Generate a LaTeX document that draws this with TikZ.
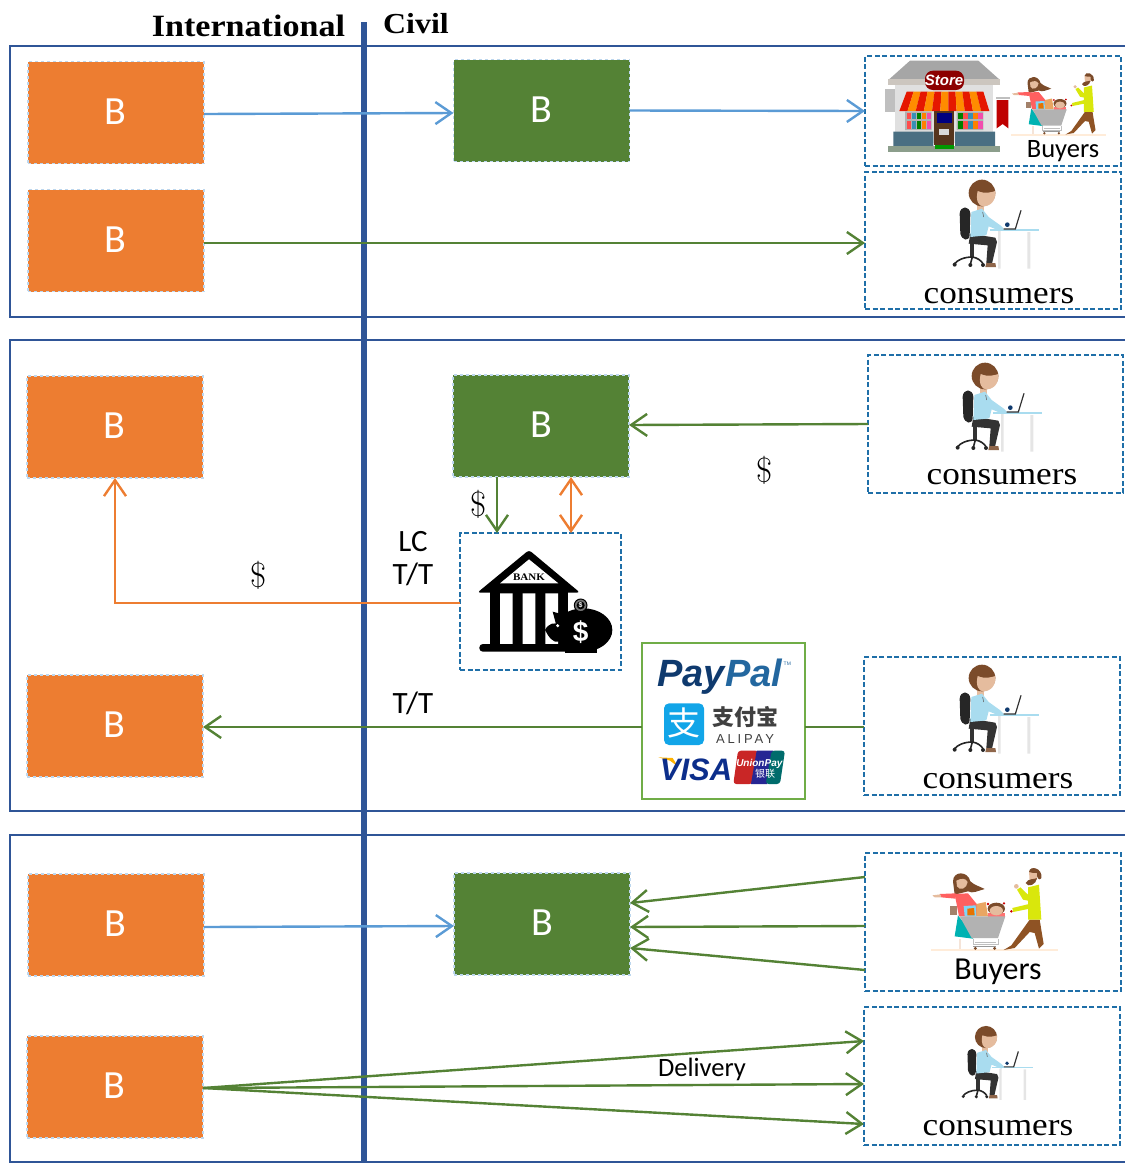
\documentclass[tikz,border=0pt]{standalone}
\usepackage{fontspec}
\usetikzlibrary{arrows.meta,calc}
\newfontfamily\carl{Carlito}
\newfontfamily\serf[FakeStretch=1.1]{Liberation Serif}
\newfontfamily\lsans{Liberation Sans}
\newfontfamily\lsp[LetterSpace=22]{Liberation Sans}
\newfontfamily\cjkf{Noto Sans CJK SC}
\newcommand{\fsz}[1]{\fontsize{#1}{#1}\selectfont}
\newcommand{\bor}{\raisebox{2pt}{\hspace*{-1.5pt}B}}
\newcommand{\bgr}{\raisebox{2pt}{B}}
\definecolor{frameblue}{HTML}{2F5597}
\definecolor{orangeb}{HTML}{ED7D31}
\definecolor{greenb}{HTML}{548235}
\definecolor{bluearrow}{HTML}{5B9BD5}
\definecolor{dashblue}{HTML}{1F6FA8}
\definecolor{lightedge}{HTML}{BDD7EE}
\definecolor{paygreen}{HTML}{70AD47}
\definecolor{hairb}{HTML}{7B4B2A}
\definecolor{skin}{HTML}{E5BC9E}
\definecolor{shirt}{HTML}{A9DCEF}
\definecolor{navyp}{HTML}{0F3A6E}
\definecolor{midp}{HTML}{23679F}
\definecolor{alipayb}{HTML}{12A5E8}
\tikzset{
  frameline/.style={draw=frameblue,line width=2pt},
  obox/.style={fill=orangeb,draw=lightedge,dashed,line width=1.2pt,minimum width=176pt,minimum height=102pt,outer sep=0pt,text=white,font=\carl\fsz{40}},
  gbox/.style={fill=greenb,draw=lightedge,dashed,line width=1.2pt,minimum width=176pt,minimum height=102pt,outer sep=0pt,text=white,font=\carl\fsz{40}},
  dbox/.style={draw=dashblue,dash pattern=on 5pt off 2.5pt,line width=1.6pt,outer sep=0pt,fill=none},
  paybox/.style={draw=paygreen,line width=2.8pt,outer sep=0pt,minimum width=163pt,minimum height=156pt},
  arr/.style={line width=2.4pt,-{Straight Barb[length=16pt,width=22pt,line width=2.4pt]}},
  darr/.style={line width=2.4pt,{Straight Barb[length=16pt,width=22pt,line width=2.4pt]}-{Straight Barb[length=16pt,width=22pt,line width=2.4pt]}},
  lab/.style={inner sep=0pt,font=\carl\fsz{31}},
  cons/.style={inner sep=0pt,font=\serf\fsz{32}},
  money/.style={inner sep=0pt,font=\normalfont\fsz{35}},
  ttl/.style={inner sep=0pt,font=\serf\bfseries\fsz{31}},
}
% reference crop coordinates: 3 units = 1 pixel
\newcommand{\personpic}[3]{%
\begin{scope}[shift={(#1,#2)},scale=#3/3,shift={(-365,-458)}]
 \fill[black!85] (298,520) .. controls (300,495) and (328,495) .. (330,520) -- (328,585) .. controls (325,605) and (305,600) .. (300,580) -- cycle;
 \fill[black!80] (330,605) rectangle (342,650);
 \draw[black!85,line width=1.6pt] (336,650) .. controls (310,650) and (290,660) .. (283,670);
 \draw[black!85,line width=1.6pt] (336,650) .. controls (350,652) and (362,660) .. (368,670);
 \draw[black!85,line width=1.6pt] (336,650) -- (330,672);
 \fill[black!85] (283,673) circle (6) (330,674) circle (6) (368,674) circle (6);
 \fill[black!10] (413,572) rectangle (421,685) (501,575) rectangle (510,685);
 \fill[shirt] (388,566) rectangle (535,571);
 \fill[black!80] (330,580) -- (405,592) -- (410,605) -- (395,670) -- (378,668) -- (382,615) -- (325,610) -- cycle;
 \fill[hairb!85] (378,668) -- (405,668) -- (407,680) -- (375,680) -- cycle;
 \fill[skin] (350,490) rectangle (372,512);
 \fill[shirt] (333,515) -- (365,505) -- (385,530) -- (420,555) -- (430,565) -- (420,572) -- (385,558) -- (378,585) -- (330,590) -- cycle;
 \draw[black!60,line width=.6pt] (367,515) -- (370,530);
 \fill[hairb] (365,458) circle (40);
 \fill[skin] (352,452) .. controls (375,462) and (395,455) .. (405,452) .. controls (408,475) and (395,498) .. (368,498) .. controls (355,498) and (345,480) .. (352,452) -- cycle;
 \draw[black!80,line width=1.2pt] (430,566) -- (465,566) -- (482,510);
 \fill[navyp] (441,553) circle (7);
\end{scope}}
\newcommand{\familypic}[3]{%
\begin{scope}[shift={(#1,#2)},scale=#3/3,shift={(-370,-250)}]
 \fill[orange!15] (215,312) rectangle (595,320);
 % woman
 \fill[hairb] (280,110) .. controls (280,78) and (325,78) .. (332,110) .. controls (345,122) and (360,125) .. (375,133) .. controls (355,138) and (340,148) .. (325,140) -- (285,150) -- cycle;
 \fill[skin] (290,108) .. controls (305,100) and (318,100) .. (324,112) .. controls (322,132) and (300,140) .. (292,125) -- cycle;
 \fill[white!60!skin] (297,283) rectangle (305,312);
 \fill[hairb!70] (272,185) rectangle (292,210);
 \fill[teal!60!cyan] (295,212) -- (340,270) -- (340,282) -- (285,275) -- cycle;
 \fill[red!50!pink] (285,148) -- (325,146) -- (365,195) -- (350,215) -- (298,215) -- cycle;
 \fill[red!50!pink] (240,148) -- (288,146) -- (288,162) -- (245,158) -- cycle;
 \fill[skin] (218,152) -- (242,149) -- (245,158) -- (225,158) -- cycle;
 % goods
 \fill[orange!50!brown!70] (350,178) -- (378,172) -- (385,215) -- (350,215) -- cycle;
 \fill[cyan!50] (312,184) -- (348,182) -- (350,215) -- (315,215) -- cycle;
 \fill[orange!90!black] (323,192) -- (343,190) -- (345,212) -- (323,212) -- cycle;
 % child
 \fill[red!40!pink] (385,205) rectangle (435,216);
 \fill[hairb] (410,192) ellipse (26 and 18);
 \fill[skin] (410,198) ellipse (20 and 14);
 \fill[red!80!black] (385,178) circle (4) (433,176) circle (4);
 % cart
 \fill[black!30] (300,215) -- (437,215) -- (415,280) -- (336,280) -- cycle;
 \draw[black!25,line width=.8pt] (340,282) -- (340,300) -- (415,300) -- (415,282) (347,292) -- (410,292);
 \draw[black!40,line width=1pt] (340,304) -- (410,304);
 \fill[hairb] (347,311) circle (5) (405,311) circle (5);
 % man
 \fill[hairb!85!orange] (510,225) -- (540,225) -- (552,298) -- (538,312) -- (525,265) -- (510,262) -- (465,310) -- (432,316) -- (455,302) -- cycle;
 \fill[yellow!85!green] (505,128) -- (538,120) -- (545,225) -- (505,225) -- cycle;
 \fill[yellow!85!green] (507,152) -- (505,168) -- (490,165) -- (472,135) -- (482,128) -- cycle;
 \fill[yellow!85!green] (508,178) -- (510,192) -- (460,202) -- (458,190) -- cycle;
 \fill[red!80!black] (455,200) circle (4);
 \fill[skin] (508,80) -- (535,82) -- (532,105) -- (510,112) -- cycle;
 \fill[hairb] (508,82) .. controls (510,60) and (550,70) .. (545,100) .. controls (540,110) and (530,100) .. (532,85) .. controls (525,85) and (515,85) .. (508,82) -- cycle;
 \fill[hairb] (498,115) .. controls (505,100) and (525,105) .. (532,100) .. controls (530,120) and (505,130) .. (498,115) -- cycle;
 \fill[skin] (470,125) circle (7);
\end{scope}}
\begin{document}
\begin{tikzpicture}[x=1pt,y=-1pt]
\useasboundingbox (0,0) rectangle (1125,1163);
% frames
\draw[frameline] (1125,46) -- (10,46) -- (10,317) -- (1125,317);
\draw[frameline] (1125,340) -- (10,340) -- (10,811) -- (1125,811);
\draw[frameline] (1125,835) -- (10,835) -- (10,1162) -- (1125,1162);
% divider
\coordinate (divtop) at (364,22);
\coordinate (divbot) at (364,1163);
\draw[frameblue,line width=5.5pt] (divtop) -- (divbot);
\node[ttl] (tint) at (248.5,26) {International};
\node[ttl,font=\serf\bfseries\fsz{29}] (tciv) at (416,24) {Civil};
% orange boxes
\node[obox] (o1) at (116,112.5) {\bor};
\node[obox] (o2) at (116,240.5) {\bor};
\node[obox] (o3) at (115,427) {\bor};
\node[obox] (o4) at (115,726) {\bor};
\node[obox] (o5) at (116,925) {\bor};
\node[obox] (o6) at (115,1087) {\bor};
% green boxes
\node[gbox] (g1) at (541.5,110.5) {\bgr};
\node[gbox] (g2) at (541,426) {\bgr};
\node[gbox] (g3) at (542,924) {\bgr};
% dashed boxes
\node[dbox,minimum width=256pt,minimum height=110pt] (d1) at (993,111) {};
\node[dbox,minimum width=256pt,minimum height=137pt] (d2) at (993,240.5) {};
\node[dbox,minimum width=255pt,minimum height=138pt] (d3) at (995.5,424) {};
\node[dbox,minimum width=256pt,minimum height=138pt] (d4) at (992,726) {};
\node[dbox,minimum width=256pt,minimum height=138pt] (d5) at (993,922) {};
\node[dbox,minimum width=256pt,minimum height=138pt] (d6) at (992,1076) {};
\node[dbox,minimum width=161pt,minimum height=137pt] (bank) at (540.5,601.5) {};
\node[paybox] (pay) at (723.5,721) {};
% arrows
\draw[arr,bluearrow] ([yshift=-1.5pt]o1.east) -- ([yshift=-2.5pt]g1.west);
\draw[arr,bluearrow] (g1.east) -- (d1.west);
\draw[arr,greenb] ([yshift=-2.5pt]o2.east) -- ([yshift=-2.5pt]d2.west);
\draw[arr,greenb] (d3.west) -- ([yshift=1pt]g2.east);
\draw[arr,greenb] ([xshift=-44pt]g2.south) -- ([xshift=-43.5pt]bank.north);
\draw[darr,orangeb] ([xshift=30pt]g2.south) -- ([xshift=30.5pt]bank.north);
\draw[arr,orangeb] ([yshift=-1.5pt]bank.west) -| (o3.south);
\draw[arr,greenb] ([yshift=-6pt]pay.west) -- ([yshift=-1pt]o4.east);
\draw[line width=2.4pt,greenb] ([yshift=-6pt]pay.east) -- ([yshift=-6pt]pay.east -| d4.west);
\draw[arr,bluearrow] ([yshift=-2pt]o5.east) -- ([yshift=-2pt]g3.west);
\draw[arr,greenb] ([yshift=45pt]d5.west) -- ([yshift=21pt]g3.east);
\draw[arr,greenb] ([yshift=-4pt]d5.west) -- ([yshift=-3pt]g3.east);
\draw[arr,greenb] ([yshift=-48pt]d5.west) -- ([yshift=-24pt]g3.east);
\draw[arr,greenb] ([yshift=-1pt]o6.east) -- ([yshift=35pt]d6.west);
\draw[arr,greenb] ([yshift=-1pt]o6.east) -- ([yshift=-8pt]d6.west);
\draw[arr,greenb] ([yshift=-1pt]o6.east) -- ([yshift=-48pt]d6.west);
% labels
\node[lab,font=\carl\fsz{26.5}] (ldel) at (702,1069) {Delivery};
\node[lab] (llc) at (413,542) {LC};
\node[lab] (ltt) at (413,574) {T/T};
\node[lab] (ltt2) at (413,703) {T/T};
\node[money] (m1) at (479,504) {\$};
\node[money] (m2) at (765,470) {\$};
\node[money] (m3) at (259,575) {\$};
\node[lab,font=\carl\fsz{26.5}] (lb1) at (1063,151) {Buyers};
\node[lab,font=\carl\fsz{32}] (lb2) at (998,972) {Buyers};
\node[cons] (c1) at (999,296) {consumers};
\node[cons] (c2) at (1002,477) {consumers};
\node[cons] (c3) at (998,781) {consumers};
\node[cons] (c4) at (998,1128) {consumers};
% people
\personpic{982}{193}{1}
\personpic{985}{376}{1}
\personpic{982}{678}{1}
\personpic{986}{1037}{.83}
\familypic{1050}{118}{.75}
\familypic{983}{928}{1}
% store
\begin{scope}[shift={(860,40)},scale=1/3]
 \fill[black!35] (85,120) -- (150,62) -- (355,62) -- (420,120) -- cycle;
 \fill[black!12] (105,130) rectangle (400,310);
 \fill[black!25] (75,148) rectangle (105,215);
 \fill[orange!20!black!25] (85,118) rectangle (420,136);
 \fill[black!25] (408,172) rectangle (450,178);
 \fill[red!75!black] (410,180) -- (445,180) -- (445,265) -- (428,252) -- (410,265) -- cycle;
 \foreach \i in {0,...,10}{
  \pgfmathsetmacro{\ta}{140+\i*230/11}\pgfmathsetmacro{\tb}{140+(\i+1)*230/11}
  \pgfmathsetmacro{\ba}{118+\i*270/11}\pgfmathsetmacro{\bbb}{118+(\i+1)*270/11}
  \pgfmathtruncatemacro{\stp}{mod(\i,2)}
  \ifnum\stp=0 \fill[red!80!orange!90!black] (\ta,155) -- (\tb,155) -- (\bbb,213) -- (\ba,213) -- cycle;
  \else \fill[orange!90!yellow] (\ta,155) -- (\tb,155) -- (\bbb,213) -- (\ba,213) -- cycle; \fi}
 \fill[black!30] (135,214) rectangle (215,270) (290,214) rectangle (370,270);
 \foreach \xx/\cc in {140/red!70,155/cyan!70!black,170/green!50!black,185/orange,200/magenta!70,295/green!50!black,310/red!70,325/cyan!70!black,340/orange,355/magenta!70}{
  \fill[\cc] (\xx,218) rectangle ++(13,20);
  \fill[\cc] (\xx,244) rectangle ++(13,22);}
 \fill[hairb!70!black] (222,214) rectangle (283,316);
 \fill[blue!50!black] (230,218) rectangle (275,250);
 \fill[black!15] (238,268) rectangle (268,285);
 \fill[cyan!45!black] (100,275) rectangle (220,318) (285,275) rectangle (405,318);
 \fill[green!15!black!45] (85,318) rectangle (420,335);
 \fill[green!60!black] (225,316) rectangle (283,328);
 \fill[red!55!black,rounded corners=8pt] (195,92) rectangle (312,150);
 \node[inner sep=0pt,text=white,font=\lsans\bfseries\itshape\fsz{15}] (storetxt) at (252,122) {Store};
\end{scope}
% bank
\begin{scope}[shift={(450,520)},scale=1/3]
 \fill[black,rounded corners=3pt] (82,218) -- (237,90) -- (390,218) -- cycle;
 \fill[white] (150,190) -- (237,118) -- (325,190) -- cycle;
 \node[inner sep=0pt,font=\serf\bfseries\fsz{10}] (banktxt) at (237,172) {BANK};
 \fill[black] (120,215) rectangle (355,378);
 \fill[white] (150,220) rectangle (188,372) (218,220) rectangle (256,372) (286,220) rectangle (324,372);
 \fill[black,rounded corners=3.5pt] (88,372) rectangle (400,395);
 \fill[black] (400,330) ellipse (87 and 65);
 \fill[black] (308,275) -- (345,285) -- (320,320) -- cycle;
 \fill[black] (285,330) .. controls (295,310) and (315,305) .. (325,315) -- (325,365) .. controls (310,370) and (295,350) .. (285,330) -- cycle;
 \fill[black] (345,380) rectangle (440,398);
 \fill[white] (323,317) circle (5);
 \node[inner sep=0pt,text=white,font=\lsans\bfseries\fsz{28}] (pigd) at (392,335) {\$};
 \draw[black,line width=1pt,fill=black!55] (392,256) circle (19);
 \fill[black] (392,256) circle (12);
 \node[inner sep=0pt,text=white,font=\lsans\bfseries\fsz{7}] (coind) at (392,256) {\$};
\end{scope}
% payment logos
\begin{scope}[shift={(450,520)},scale=1/3]
 \node[inner sep=0pt,anchor=base east,text=navyp,font=\lsans\bfseries\itshape\fsz{38}] (lpay) at (825,498) {Pay};
 \node[inner sep=0pt,anchor=base west,text=midp,font=\lsans\bfseries\itshape\fsz{38}] (lpal) at (lpay.base east) {Pal};
 \node[inner sep=0pt,text=midp,font=\lsans\fsz{5}] (ltm) at (1012,430) {TM};
 \fill[alipayb,rounded corners=5pt] (642,550) rectangle (762,675);
 \node[inner sep=0pt,text=white,font=\cjkf\fsz{33}] (lzhi) at (702,610) {支};
 \node[inner sep=0pt,text=black!75,font=\cjkf\bfseries\fsz{22}] (lzfb) at (885,592) {支付宝};
 \node[inner sep=0pt,text=black!75,font=\lsp\fsz{13}] (lali) at (885,656) {ALIPAY};
 \fill[orange!60!yellow] (625,712) -- (668,714) -- (684,740) -- (660,722) -- cycle;
 \node[inner sep=0pt,text=navyp!80!blue,font=\lsans\bfseries\itshape\fsz{31}] (lvisa) at (738,748) {VISA};
 \fill[red!75!black!85,rounded corners=3pt] (864,692) -- (925,692) -- (908,792) -- (850,792) -- cycle;
 \fill[blue!50!black!85] (920,692) -- (970,692) -- (952,792) -- (903,792) -- cycle;
 \fill[teal!85!black,rounded corners=3pt] (965,692) -- (1005,692) -- (990,792) -- (947,792) -- cycle;
 \node[inner sep=0pt,text=white,font=\lsans\bfseries\itshape\fsz{10}] (lup) at (928,732) {UnionPay};
 \node[inner sep=0pt,text=white,font=\cjkf\fsz{10}] (lyl) at (945,760) {银联};
\end{scope}
\end{tikzpicture}
\end{document}
